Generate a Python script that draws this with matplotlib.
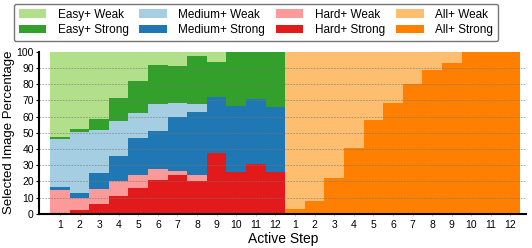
import matplotlib
matplotlib.use("Agg")
import matplotlib.pyplot as plt
from matplotlib.patches import Patch
import numpy as np

plt.rcParams['font.family'] = ['Liberation Sans', 'DejaVu Sans']

steps = list(range(1, 13))
# cumulative tops (percent)
hard_strong = [0.5, 2.3, 6.0, 10.9, 15.8, 20.6, 24.1, 20.0, 37.2, 25.5, 30.7, 25.9]
hard_weak_top = [14.6, 9.7, 15.4, 20.0, 24.1, 27.6, 26.7, 24.1, 37.2, 25.5, 30.7, 25.9]
medium_strong_top = [16.5, 12.6, 24.9, 35.8, 46.5, 51.2, 59.5, 62.8, 71.8, 66.5, 70.6, 65.6]
medium_weak_top = [45.9, 50.4, 51.4, 57.0, 62.1, 67.5, 68.3, 67.9, 72.2, 66.5, 70.6, 65.6]
easy_strong_top = [47.1, 52.5, 58.2, 71.2, 81.7, 91.8, 91.4, 97.5, 93.4, 100, 100, 100]
easy_weak_top = [100] * 12
all_strong = [2.9, 7.8, 22.2, 40.3, 57.8, 68.5, 80.2, 88.7, 92.8, 100, 100, 100]
all_weak_top = [100] * 12

labels = ["Easy+ Weak", "Easy+ Strong", "Medium+ Weak", "Medium+ Strong",
          "Hard+ Weak", "Hard+ Strong", "All+ Weak", "All+ Strong"]
colors = ["#b2df8a", "#33a02c", "#a6cee3", "#1f78b4",
          "#fb9a99", "#e31a1c", "#fdbf6f", "#ff7f00"]

fig = plt.figure(figsize=(5.32, 2.48), dpi=100)
ax = fig.add_axes([0.074, 0.138, 0.915, 0.6535])

def step_fill(x0, lower, upper, color):
    n = len(upper)
    xe = np.arange(x0, x0 + n + 1)
    lo = list(lower) + [lower[-1]]
    up = list(upper) + [upper[-1]]
    ax.fill_between(xe, lo, up, step='post', color=color, linewidth=0, zorder=1)

zero = [0] * 12
left_layers = [zero, hard_strong, hard_weak_top, medium_strong_top,
               medium_weak_top, easy_strong_top, easy_weak_top]
left_colors = [colors[5], colors[4], colors[3], colors[2], colors[1], colors[0]]
for i, c in enumerate(left_colors):
    step_fill(0, left_layers[i], left_layers[i + 1], c)

step_fill(12, zero, all_strong, colors[7])
step_fill(12, all_strong, all_weak_top, colors[6])

ax.set_xlim(-0.55, 24.3)
ax.set_ylim(0, 100)
ax.set_yticks(range(0, 101, 10))
xt = np.arange(24) + 0.5
ax.set_xticks(xt)
ax.set_xticklabels([str(s) for s in steps] * 2)
ax.tick_params(axis='both', labelsize=7.5, length=2.5, width=0.8, pad=1.5)
ax.tick_params(axis='x', length=1.5, width=0.5, color='#aaaaaa', pad=3)
for y in range(10, 100, 10):
    ax.axhline(y, color='#777777', lw=0.6, ls=(0, (2, 1.5)), alpha=0.7, zorder=2)

for s in ['top', 'right']:
    ax.spines[s].set_visible(False)
for s in ['left', 'bottom']:
    ax.spines[s].set_linewidth(1.5)
    ax.spines[s].set_zorder(3)

ax.set_xlabel("Active Step", fontsize=10, labelpad=1.5)
ax.set_ylabel("Selected Image Percentage", fontsize=9.5, labelpad=1)

handles = [Patch(facecolor=c, edgecolor='none') for c in colors]
fig.legend(handles, labels, ncol=4, loc='upper left',
           bbox_to_anchor=(0.026, 0.839, 0.91, 0.145), mode='expand',
           fontsize=8.5, frameon=True, edgecolor='#555555', fancybox=True,
           handlelength=2.3, handleheight=0.7, borderpad=0.4,
           labelspacing=0.3, columnspacing=1.0, handletextpad=1.0,
           borderaxespad=0)

fig.savefig("out.png", dpi=100)
